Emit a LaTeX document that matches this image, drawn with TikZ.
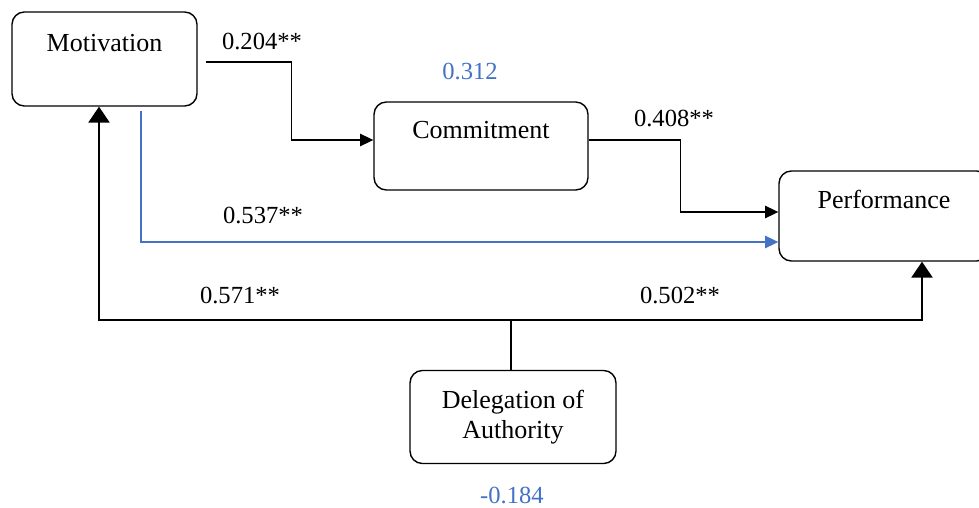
\documentclass[tikz,border=0pt]{standalone}
\usepackage{fontspec}
\setmainfont{Liberation Serif}
\usepackage{tikz}
\usetikzlibrary{arrows.meta}
\usetikzlibrary{calc}
\definecolor{mblue}{RGB}{68, 114, 196}

\begin{document}
\begin{tikzpicture}[x=0.02cm, y=0.02cm, font=\fontsize{14}{16.8}\selectfont,
    box/.style={draw, line width=0.8pt, rounded corners=7pt, inner sep=0pt, font=\fontsize{14.8}{17}\selectfont},
    topbox/.style={box, text height=10pt, text depth=19pt},
    link/.style={line width=0.8pt, -{Triangle[length=7.5pt, width=7pt]}},
    uplink/.style={line width=0.8pt, -{Triangle[length=9pt, width=12pt]}}]
    \useasboundingbox (0, 0) rectangle (979, 507);

    \node [topbox, minimum width=3.7cm, minimum height=1.88cm] (mot) at (104.5, 448) {Motivation};
    \node [topbox, minimum width=4.28cm, minimum height=1.76cm] (com) at (481, 361) {Commitment};
    \node [topbox, minimum width=4.2cm, minimum height=1.8cm] (perf) at (884, 291) {Performance};
    \node [box, align=center, minimum width=4.12cm, minimum height=1.86cm] (del) at (513, 90) {Delegation of\\Authority};

    \draw [link] ($(mot.east) + (8, -3)$) -- ++(86, 0) |- ($(com.west) + (0, 6)$);
    \draw [link] ($(com.east) + (0, 6)$) -- ++(92, 0) |- ($(perf.west) + (0, 4)$);
    \draw [link, mblue] ($(mot.south) + (36.5, -4)$) |- ($(perf.west) + (0, -26)$); % direct path

    \coordinate (join) at (511, 187);
    \draw [line width=0.8pt] ($(del.north) + (-2, 0)$) -- (join);
    \draw [uplink] (join) -| ($(mot.south) + (-5.5, 0)$);
    \draw [uplink] (join) -| ($(perf.south) + (38, 0)$);

    \node (wmc) at (262, 465) {0.204**};
    \node [mblue] (rcom) at (470, 435) {0.312};
    \node (wcp) at (674, 389) {0.408**};
    \node (wmp) at (263, 292) {0.537**};
    \node (wdm) at (240, 212) {0.571**};
    \node (wdp) at (680, 212) {0.502**};
    \node [mblue] (rdel) at (512, 12) {-0.184};
\end{tikzpicture}
\end{document}
